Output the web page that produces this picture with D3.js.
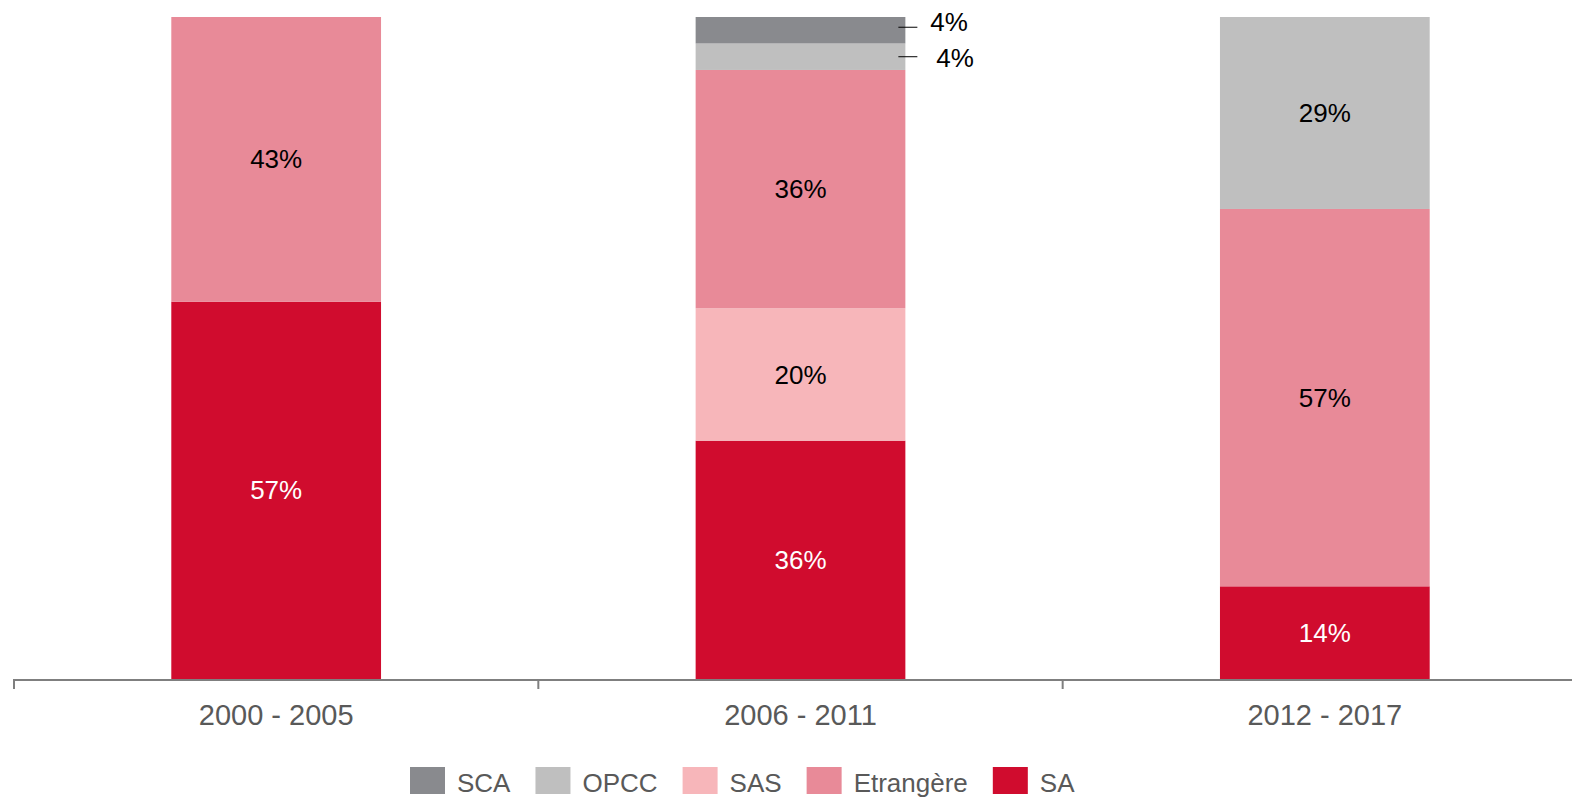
<!DOCTYPE html>
<html>
<head>
<meta charset="utf-8">
<script src="https://cdn.jsdelivr.net/npm/d3@7"></script>
<style>
  body { margin: 0; background: #fff; }
  svg { display: block; font-family: "Liberation Sans", Arial, sans-serif; }
</style>
</head>
<body>
<div class="chart"></div>
<script>
// données du graphique
const periods = ['2000 - 2005', '2006 - 2011', '2012 - 2017'];
const seriesNames = ['SA', 'SAS', 'Etrangère', 'OPCC', 'SCA'];
const SA = [57, 36, 14];
const Etrangere = [43, 36, 57];
const SAS = [0, 20, 0];
const OPCC = [0, 4, 29];
const SCA = [0, 4, 0];
const legendOrder = ['SCA', 'OPCC', 'SAS', 'Etrangère', 'SA'];

const colors = {
  'SA': '#d00c2e',
  'Etrangère': '#e88a98',
  'SAS': '#f7b6ba',
  'OPCC': '#bfbfbf',
  'SCA': '#898a8e'
};
const labelColors = {'SA': '#fff'};

const width = 1572, height = 797;
const margin = {top: 17, bottom: 118, left: 14};
const baseY = height - margin.bottom;

const table = periods.map((p, i) => ({
  period: p,
  'SA': SA[i], 'Etrangère': Etrangere[i], 'SAS': SAS[i], 'OPCC': OPCC[i], 'SCA': SCA[i]
}));

const stack = d3.stack().keys(seriesNames)(table);

const x = d3.scaleBand().domain(periods).range([margin.left, 1587]).padding(0);
const y = d3.scaleLinear().domain([0, 100]).range([baseY, margin.top]);
const barW = x.bandwidth() * 0.4;
const barX = d => x(d.data.period) + (x.bandwidth() - barW) / 2;

const svg = d3.select('.chart').append('svg')
  .attr('width', width)
  .attr('height', height);

// barres empilées
const layers = svg.selectAll('.layer')
  .data(stack)
  .enter().append('g')
  .attr('class', 'layer')
  .attr('fill', d => colors[d.key]);

layers.selectAll('rect')
  .data(d => d.filter(s => s[1] - s[0] > 0))
  .enter().append('rect')
  .attr('x', barX)
  .attr('width', barW)
  .attr('y', d => y(d[1]))
  .attr('height', d => y(d[0]) - y(d[1]));

// étiquettes
stack.forEach(layer => {
  layer.forEach(s => {
    const v = s[1] - s[0];
    if (v <= 0) return;
    const mid = (y(s[0]) + y(s[1])) / 2;
    if (v < 8) {
      // petite valeur : étiquette à droite avec trait
      const lx = barX(s) + barW;
      const shift = layer.key === 'SCA' ? -3 : 0;
      svg.append('line')
        .attr('x1', lx - 7).attr('x2', lx + 12)
        .attr('y1', mid + shift).attr('y2', mid + shift)
        .attr('stroke', '#000').attr('stroke-width', 1);
      svg.append('text')
        .attr('x', lx + (layer.key === 'SCA' ? 25 : 31))
        .attr('y', mid + (layer.key === 'SCA' ? -8 : 1))
        .attr('dy', '0.35em')
        .attr('font-size', 26)
        .attr('fill', '#000')
        .text(v + '%');
    } else {
      svg.append('text')
        .attr('x', barX(s) + barW / 2)
        .attr('y', mid)
        .attr('dy', '0.35em')
        .attr('text-anchor', 'middle')
        .attr('font-size', 26)
        .attr('fill', labelColors[layer.key] || '#000')
        .text(v + '%');
    }
  });
});

// axe x
const axis = svg.append('g');
axis.append('line')
  .attr('x1', margin.left).attr('x2', width)
  .attr('y1', baseY + 1).attr('y2', baseY + 1)
  .attr('stroke', '#7f7f7f').attr('stroke-width', 2);
axis.selectAll('.tick')
  .data(periods)
  .enter().append('line')
  .attr('x1', d => x(d)).attr('x2', d => x(d))
  .attr('y1', baseY).attr('y2', baseY + 10)
  .attr('stroke', '#7f7f7f').attr('stroke-width', 2);
axis.selectAll('.lbl')
  .data(periods)
  .enter().append('text')
  .attr('x', d => x(d) + x.bandwidth() / 2)
  .attr('y', baseY + 46)
  .attr('text-anchor', 'middle')
  .attr('font-size', 29)
  .attr('fill', '#595959')
  .text(d => d);

// légende
let lx = 410;
legendOrder.forEach(name => {
  svg.append('rect')
    .attr('x', lx).attr('y', 767)
    .attr('width', 35).attr('height', 27)
    .attr('fill', colors[name]);
  const t = svg.append('text')
    .attr('x', lx + 47).attr('y', 792)
    .attr('font-size', 26)
    .attr('fill', '#595959')
    .text(name);
  lx += 47 + t.node().getComputedTextLength() + 25;
});
</script>
</body>
</html>
